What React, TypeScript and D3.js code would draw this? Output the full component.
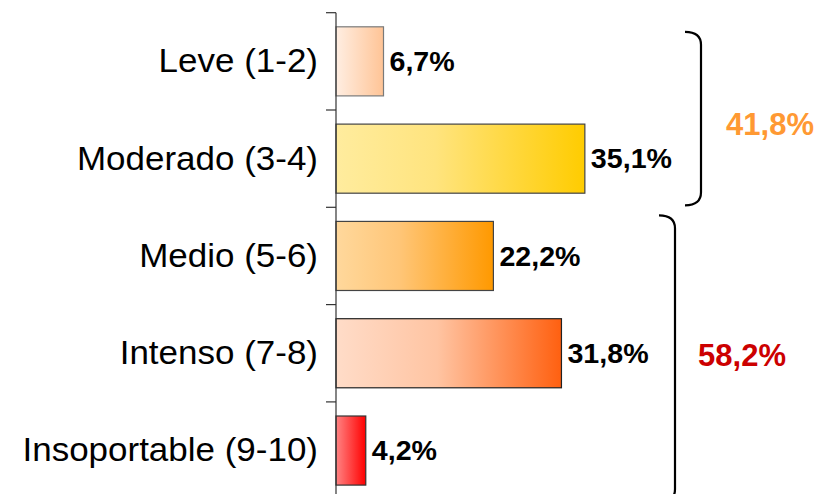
import React, { useEffect } from 'react';
import * as d3 from 'd3';

const categories = ['Leve (1-2)', 'Moderado (3-4)', 'Medio (5-6)', 'Intenso (7-8)', 'Insoportable (9-10)'];
const values = [6.7, 35.1, 22.2, 31.8, 4.2];
const valueLabels = ['6,7%', '35,1%', '22,2%', '31,8%', '4,2%'];
const groups = [
  { from: 0, to: 1, label: '41,8%', color: '#FF9933' },
  { from: 2, to: 4, label: '58,2%', color: '#CC0000' },
];
const gradients = [
  [['0%', '#FFEEE2'], ['100%', '#FFC496']],
  [['0%', '#FFEC9E'], ['40%', '#FFE47E'], ['100%', '#FFCC00']],
  [['0%', '#FFD89C'], ['40%', '#FFC678'], ['100%', '#FF9900']],
  [['0%', '#FFDCC8'], ['45%', '#FFC4A2'], ['100%', '#FF6010']],
  [['0%', '#FF8484'], ['100%', '#FF0000']],
];
const strokes = ['#7a7a7a', '#444', '#444', '#222', '#333'];

const W = 823;
const H = 494;
const FONT = '"Liberation Sans", Arial, Helvetica, sans-serif';
// reference text is slightly wider than Arial
const STRETCH = 1.06;

export default function App() {
  useEffect(() => {
    document.body.style.margin = '0';
  }, []);

  const y = d3.scaleBand<string>()
    .domain(categories)
    .range([12.7, 499.2])
    .paddingInner(0.29)
    .paddingOuter(0.145);

  const x = d3.scaleLinear().domain([0, 100]).range([336, 336 + 709]);
  const x0 = x(0);

  const boundaries = d3.range(categories.length + 1).map(i => y.range()[0] + i * y.step());

  return (
    <svg width={W} height={H} style={{ display: 'block', background: '#fff' }} fontFamily={FONT}>
      <defs>
        {gradients.map((g, i) => (
          <linearGradient key={i} id={`grad${i}`} x1="0%" x2="100%" y1="0%" y2="0%">
            {g.map(([o, c], j) => <stop key={j} offset={o} stopColor={c} />)}
          </linearGradient>
        ))}
      </defs>

      {/* bars */}
      {categories.map((c, i) => {
        const cy = (y(c) as number) + y.bandwidth() / 2;
        return (
          <g key={c}>
            <rect
              x={x0}
              y={y(c)}
              width={x(values[i]) - x0}
              height={y.bandwidth()}
              fill={`url(#grad${i})`}
              stroke={strokes[i]}
              strokeWidth={1.2}
            />
            <text
              transform={`translate(${x(values[i]) + 6},${cy}) scale(${STRETCH},1)`}
              dy="0.36em"
              fontSize={27}
              fontWeight="bold"
              fill="#000"
            >
              {valueLabels[i]}
            </text>
            <text
              transform={`translate(318,${cy - 1}) scale(${STRETCH},1)`}
              dy="0.36em"
              textAnchor="end"
              fontSize={33}
              fill="#000"
            >
              {c}
            </text>
          </g>
        );
      })}

      {/* axis */}
      <line x1={x0} x2={x0} y1={boundaries[0]} y2={H} stroke="#333" strokeWidth={1.2} />
      {boundaries.map((b, i) => (
        <line key={i} x1={x0 - 10} x2={x0} y1={b} y2={b} stroke="#333" strokeWidth={1.2} />
      ))}

      {/* braces */}
      {groups.map((g, i) => {
        const top = i === 0 ? (y(categories[g.from]) as number) + 5 : boundaries[g.from] + 8;
        const bottom = i === 0 ? boundaries[g.to + 1] - 2 : boundaries[g.to + 1] + 3;
        const xv = i === 0 ? 701 : 675;
        const xl = xv - 16;
        const r = 13;
        const d = `M${xl},${top} Q${xv},${top} ${xv},${top + r} L${xv},${bottom - r} Q${xv},${bottom} ${xl},${bottom}`;
        return (
          <g key={g.label}>
            <path d={d} fill="none" stroke="#000" strokeWidth={2.2} />
            <text
              x={i === 0 ? 770 : 742}
              y={i === 0 ? 124 : 355}
              dy="0.36em"
              textAnchor="middle"
              fontSize={31}
              fontWeight="bold"
              fill={g.color}
            >
              {g.label}
            </text>
          </g>
        );
      })}
    </svg>
  );
}
